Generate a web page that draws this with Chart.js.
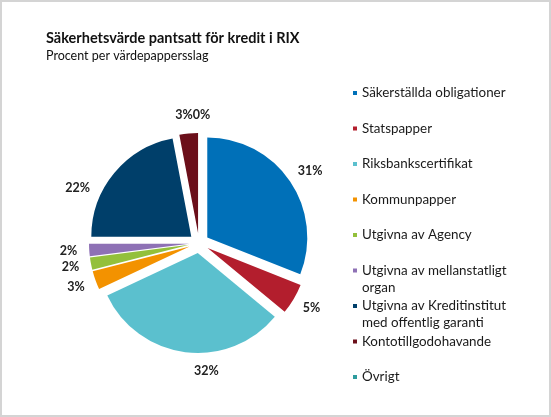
<!DOCTYPE html>
<html><head><meta charset="utf-8">
<script src="https://cdn.jsdelivr.net/npm/chart.js@4.4.0/dist/chart.umd.min.js"></script>
<style>html,body{margin:0;padding:0;background:#fff;overflow:hidden}#wrap{position:relative;width:551px;height:417px}</style>
</head><body><div id="wrap"><canvas id="c"></canvas></div>
<script>
const chartTitle = 'Säkerhetsvärde pantsatt för kredit i RIX';
const chartSubtitle = 'Procent per värdepappersslag';
const categories = [
  'Säkerställda obligationer',
  'Statspapper',
  'Riksbankscertifikat',
  'Kommunpapper',
  'Utgivna av Agency',
  ['Utgivna av mellanstatligt', 'organ'],
  ['Utgivna av Kreditinstitut', 'med offentlig garanti'],
  'Kontotillgodohavande',
  'Övrigt'
];
const values = [31, 5, 32, 3, 2, 2, 22, 3, 0];
const colors = ['#0070B8', '#B31E2D', '#5BC0CE', '#F39200', '#93C03B', '#8E71B5', '#003F6A', '#6B0F1A', '#2E9C9E'];

const FONT = 'Lato, "Open Sans", sans-serif';
const EXPLODE = 10;
// where along each slice's angle its label is anchored (0.5 = middle)
const labelAnchor = [0.5, 0.5, 0.41, 0.5, 0.5, 0.5, 0.32, 0.5, 0.5];

const decor = {
  id: 'decor',
  beforeDraw(chart) {
    const ctx = chart.ctx;
    ctx.save();
    ctx.fillStyle = '#fff';
    ctx.fillRect(0, 0, chart.width, chart.height);
    ctx.strokeStyle = '#d4d4d4';
    ctx.lineWidth = 2;
    ctx.strokeRect(1, 1, chart.width - 2, chart.height - 2);
    ctx.fillStyle = '#111';
    ctx.textBaseline = 'alphabetic';
    ctx.textAlign = 'left';
    ctx.font = 'bold 14.5px ' + FONT;
    ctx.fillText(chartTitle, 46, 43);
    ctx.font = '12.5px ' + FONT;
    ctx.fillText(chartSubtitle, 46, 60);
    ctx.restore();
  },
  beforeDatasetDraw(chart, args) {
    const ctx = chart.ctx;
    args.meta.data.forEach(arc => {
      const mid = (arc.startAngle + arc.endAngle) / 2;
      ctx.save();
      ctx.translate(Math.cos(mid) * EXPLODE, Math.sin(mid) * EXPLODE);
      arc.draw(ctx, chart.chartArea);
      ctx.restore();
    });
    return false;
  },
  afterDatasetsDraw(chart) {
    const ctx = chart.ctx;
    const meta = chart.getDatasetMeta(0);
    ctx.save();
    ctx.font = 'bold 12.5px ' + FONT;
    ctx.fillStyle = '#222';
    ctx.textAlign = 'center';
    ctx.textBaseline = 'middle';
    const h = 13;
    const boxes = meta.data.map((arc, i) => {
      const p = arc.getProps(['startAngle', 'endAngle', 'x', 'y', 'outerRadius'], true);
      const t = labelAnchor[i];
      const mid = p.startAngle + (p.endAngle - p.startAngle) * t;
      const R = p.outerRadius + EXPLODE + 12;
      const text = chart.data.datasets[0].data[i] + '%';
      const w = ctx.measureText(text).width;
      const px = p.x + Math.cos(mid) * R;
      const py = p.y + Math.sin(mid) * R;
      return { cx: px + Math.cos(mid) * w / 2, cy: py + Math.sin(mid) * h / 2, w, text };
    });
    for (let i = 1; i < boxes.length; i++) {
      const a = boxes[i - 1], b = boxes[i];
      if (Math.abs(a.cy - b.cy) < h) {
        const ov = (a.w + b.w) / 2 - Math.abs(a.cx - b.cx);
        if (ov > 0) {
          const s = a.cx <= b.cx ? 1 : -1;
          a.cx -= s * ov / 2; b.cx += s * ov / 2;
        }
      }
    }
    boxes.forEach(b => ctx.fillText(b.text, b.cx, b.cy));
    // legend
    ctx.textAlign = 'left';
    ctx.font = '13.4px ' + FONT;
    const x0 = 353, y0 = 93, step = 35.5, lh = 17;
    chart.data.labels.forEach((lab, i) => {
      const y = y0 + i * step;
      ctx.fillStyle = chart.data.datasets[0].backgroundColor[i];
      ctx.fillRect(x0, y - 2, 4, 4);
      ctx.fillStyle = '#1a1a1a';
      const lines = Array.isArray(lab) ? lab : [lab];
      lines.forEach((t, j) => ctx.fillText(t, x0 + 9, y + j * lh));
    });
    ctx.restore();
  }
};

new Chart(document.getElementById('c'), {
  type: 'pie',
  data: {
    labels: categories,
    datasets: [{
      data: values,
      backgroundColor: colors,
      borderWidth: 0,
      offset: 0,
      hoverOffset: 0
    }]
  },
  options: {
    responsive: true,
    maintainAspectRatio: false,
    animation: false,
    events: [],
    layout: { padding: { left: 99, right: 252, top: 143, bottom: 74 } },
    plugins: { legend: { display: false }, tooltip: { enabled: false }, title: { display: false } }
  },
  plugins: [decor]
});
</script>
</body></html>
